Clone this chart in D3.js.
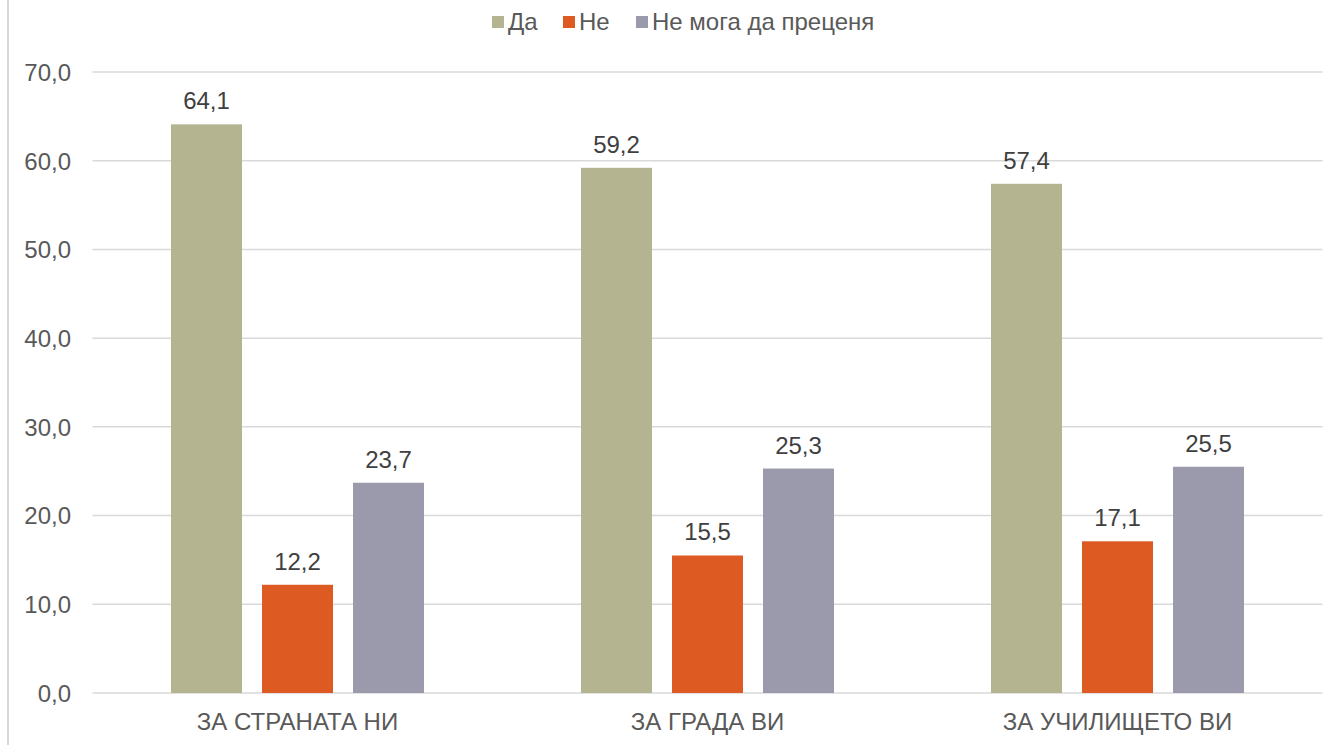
<!DOCTYPE html>
<html>
<head>
<meta charset="utf-8">
<script src="https://cdn.jsdelivr.net/npm/d3@7"></script>
<style>
	body { margin: 0; background: #fff; }
	svg { font-family: "Liberation Sans", Arial, sans-serif; }
	.tick text { fill: #595959; font-size: 24px; }
	.grid line { stroke: #d9d9d9; stroke-width: 1.5; }
</style>
</head>
<body>
<svg id="chart" width="1323" height="745"></svg>
<script>
// data
var categories = ["ЗА СТРАНАТА НИ", "ЗА ГРАДА ВИ", "ЗА УЧИЛИЩЕТО ВИ"];
var series = ["Да", "Не", "Не мога да преценя"];
var colors = ["#b4b491", "#dd5a22", "#9a9aac"];
var vals_da = [64.1, 59.2, 57.4];
var vals_ne = [12.2, 15.5, 17.1];
var vals_dk = [23.7, 25.3, 25.5];
var y_ticks = [0, 10, 20, 30, 40, 50, 60, 70];

function drawChart() {
	var values = [vals_da, vals_ne, vals_dk];
	var fmt = function(v) { return d3.format(".1f")(v).replace(".", ","); };

	var svg = d3.select("#chart");
	var plotLeft = 92.5, plotRight = 1322.5, plotTop = 72, plotBottom = 693;

	// frame line on the left
	svg.append("line")
		.attr("x1", 8).attr("x2", 8)
		.attr("y1", 0).attr("y2", 745)
		.attr("stroke", "#d9d9d9")
		.attr("stroke-width", 2);

	var y = d3.scaleLinear().domain([0, 70]).range([plotBottom, plotTop]);
	var x0 = d3.scaleBand().domain(categories).range([plotLeft, plotRight]).padding(0);
	var x1 = d3.scaleBand().domain(series)
		.range([78.5, x0.bandwidth() - 78.5])
		.paddingInner(0.22).paddingOuter(0);

	// gridlines
	svg.append("g")
		.attr("class", "grid")
		.selectAll("line")
		.data(y_ticks)
		.enter().append("line")
		.attr("x1", plotLeft).attr("x2", plotRight)
		.attr("y1", function(d) { return y(d); })
		.attr("y2", function(d) { return y(d); });

	// y axis labels
	var yAxis = d3.axisLeft(y).tickValues(y_ticks).tickSize(0).tickPadding(0).tickFormat(fmt);
	var gy = svg.append("g")
		.attr("transform", "translate(71,0)")
		.call(yAxis);
	gy.select(".domain").remove();
	gy.selectAll(".tick text").attr("dy", "0.35em");

	// x axis labels
	var xAxis = d3.axisBottom(x0).tickSize(0).tickPadding(0);
	var gx = svg.append("g")
		.attr("transform", "translate(0," + (plotBottom + 17) + ")")
		.call(xAxis);
	gx.select(".domain").remove();
	gx.selectAll(".tick text").attr("dy", "0.85em");

	// bars
	var groups = svg.selectAll("g.cat")
		.data(categories)
		.enter().append("g")
		.attr("class", "cat")
		.attr("transform", function(c) { return "translate(" + x0(c) + ",0)"; });

	series.forEach(function(s, si) {
		groups.append("rect")
			.attr("x", x1(s))
			.attr("width", x1.bandwidth())
			.attr("y", function(c, ci) { return y(values[si][ci]); })
			.attr("height", function(c, ci) { return plotBottom - y(values[si][ci]); })
			.attr("fill", colors[si]);

		groups.append("text")
			.attr("x", x1(s) + x1.bandwidth() / 2)
			.attr("y", function(c, ci) { return y(values[si][ci]) - 15; })
			.attr("text-anchor", "middle")
			.attr("fill", "#404040")
			.attr("font-size", "24px")
			.text(function(c, ci) { return fmt(values[si][ci]); });
	});

	// legend
	var legend_x = [492, 563, 636];
	var legend = svg.append("g").attr("class", "legend");
	series.forEach(function(s, i) {
		var g = legend.append("g").attr("transform", "translate(" + legend_x[i] + ",0)");
		g.append("rect")
			.attr("x", 0).attr("y", 16)
			.attr("width", 12).attr("height", 12)
			.attr("fill", colors[i]);
		g.append("text")
			.attr("x", 16).attr("y", 30)
			.attr("fill", "#595959")
			.attr("font-size", "24px")
			.text(s);
	});
}
drawChart();
</script>
</body>
</html>
